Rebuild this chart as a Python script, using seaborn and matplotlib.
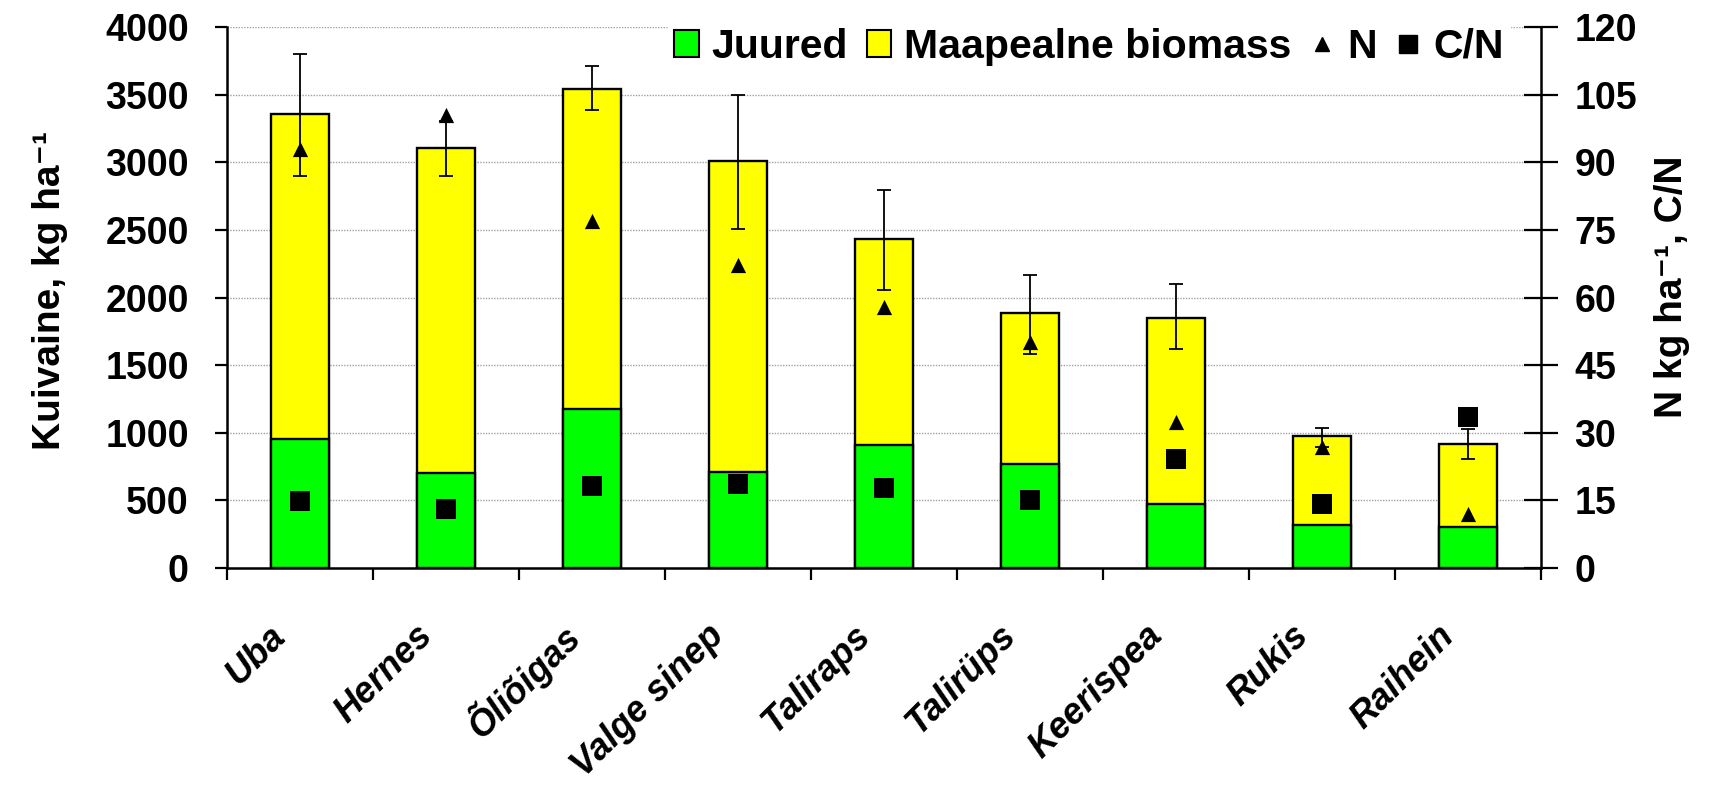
import matplotlib
matplotlib.use('Agg')
import matplotlib.pyplot as plt
import seaborn as sns
import numpy as np
import pandas as pd
from matplotlib.patches import Patch
from matplotlib.lines import Line2D
from matplotlib.transforms import ScaledTranslation

categories = ["Uba", "Hernes", "Õliõigas", "Valge sinep", "Taliraps",
              "Talirüps", "Keerispea", "Rukis", "Raihein"]
roots = [953, 704, 1173, 707, 910, 769, 472, 320, 305]
total = [3357, 3108, 3545, 3010, 2432, 1883, 1852, 978, 915]
err_low = [455, 207, 160, 500, 377, 300, 235, 80, 110]
err_high = [440, 200, 170, 490, 360, 283, 248, 60, 110]
n_vals = [93.0, 100.5, 77.0, 67.3, 57.8, 50.2, 32.4, 26.9, 11.9]
cn_vals = [14.8, 13.1, 18.2, 18.7, 17.8, 15.0, 24.2, 14.3, 33.4]
left_ticks = list(range(0, 4001, 500))
right_ticks = list(range(0, 121, 15))

df = pd.DataFrame({"kultuur": categories, "juured": roots, "kokku": total,
                   "N": n_vals, "CN": cn_vals})

sns.set_theme(style="white")
plt.rcParams['font.family'] = ['Liberation Sans', 'DejaVu Sans']
plt.rcParams['font.weight'] = 'bold'
for k in ['text.color', 'axes.labelcolor', 'xtick.color', 'ytick.color',
          'axes.edgecolor']:
    plt.rcParams[k] = 'black'

fig = plt.figure(figsize=(17.14, 7.89), dpi=100)
ax = fig.add_axes([227/1714, 1-568/789, 1314/1714, 541/789])

GREEN = "#00FF00"
YELLOW = "#FFFF00"

sns.barplot(data=df, x="kultuur", y="kokku", color=YELLOW, saturation=1,
            edgecolor="black", linewidth=1.7, width=0.40, ax=ax, zorder=2)
sns.barplot(data=df, x="kultuur", y="juured", color=GREEN, saturation=1,
            edgecolor="black", linewidth=1.7, width=0.40, ax=ax, zorder=3)

xpos = np.arange(len(categories))
ax.errorbar(xpos, total, yerr=[err_low, err_high], fmt='none', ecolor='black',
            elinewidth=1.3, capsize=5, capthick=1.3, zorder=4)

ax.set_xlim(-0.5, len(categories) - 0.5)
ax.set_ylim(0, 4000)
ax.set_yticks(left_ticks)
ax.yaxis.grid(True, color="#a0a0a0", linestyle=(0, (1, 1)), linewidth=1.0)
ax.set_axisbelow(True)
ax.set_xlabel("")
ax.set_ylabel("Kuivaine, kg ha⁻¹", fontsize=28, fontweight='bold')
ax.yaxis.set_label_coords(-0.121, 0.513)

for s in ["top", "right"]:
    ax.spines[s].set_visible(False)
for s in ["left", "bottom"]:
    ax.spines[s].set_color("black")
    ax.spines[s].set_linewidth(1.8)

ax.tick_params(axis='y', direction='out', length=8.5, width=1.6, color='black',
               labelsize=27, pad=19)
ax.set_xticks(xpos)
ax.set_xticklabels(categories, rotation=45, ha='right', va='center',
                   rotation_mode='anchor', fontsize=26, fontweight='bold',
                   fontstyle='italic')
ax.tick_params(axis='x', which='major', length=0, pad=45)
ax.set_xticks(np.arange(-0.5, len(categories), 1.0), minor=True)
ax.tick_params(axis='x', which='minor', direction='out', length=8.5, width=1.6,
               color='black', bottom=True)
off = ScaledTranslation(-19/100, 0, fig.dpi_scale_trans)
for lab in ax.get_xticklabels():
    lab.set_transform(lab.get_transform() + off)
for lab in ax.get_yticklabels():
    lab.set_fontweight('bold')

ax2 = ax.twinx()
sns.scatterplot(x=xpos, y=n_vals, marker='^', s=120, color='black',
                edgecolor='black', linewidth=0, ax=ax2, zorder=5)
sns.scatterplot(x=xpos, y=cn_vals, marker='s', s=210, color='black',
                edgecolor='black', linewidth=0, ax=ax2, zorder=5)
ax2.set_ylim(0, 120)
ax2.set_yticks(right_ticks)
ax2.set_xlim(-0.5, len(categories) - 0.5)
for s in ["top", "left", "bottom"]:
    ax2.spines[s].set_visible(False)
ax2.spines["right"].set_color("black")
ax2.spines["right"].set_linewidth(1.8)
ax2.tick_params(axis='y', direction='inout', length=24, width=1.6,
                color='black', labelsize=27, pad=12)
for lab in ax2.get_yticklabels():
    lab.set_fontweight('bold')
ax2.set_ylabel("N kg ha⁻¹, C/N", fontsize=28, fontweight='bold', rotation=90)
ax2.yaxis.set_label_coords(1.086, 0.519)
ax2.grid(False)

handles = [
    Patch(facecolor=GREEN, edgecolor='black', linewidth=1.5, label="Juured"),
    Patch(facecolor=YELLOW, edgecolor='black', linewidth=1.5, label="Maapealne biomass"),
    Line2D([], [], marker='^', color='black', linestyle='none', markersize=10, label="N"),
    Line2D([], [], marker='s', color='black', linestyle='none', markersize=13.5, label="C/N"),
]
leg = ax2.legend(handles=handles, loc='center left',
                 bbox_to_anchor=(668/1714, 1-47/789), bbox_transform=fig.transFigure,
                 ncol=4, frameon=True, fancybox=False, framealpha=1,
                 facecolor='white', edgecolor='white', fontsize=29.5,
                 handlelength=0.6, handleheight=0.65, handletextpad=0.32,
                 columnspacing=0.45, borderpad=0.15, borderaxespad=0)
for t in leg.get_texts():
    t.set_fontweight('bold')

fig.savefig("out.png", dpi=100)
